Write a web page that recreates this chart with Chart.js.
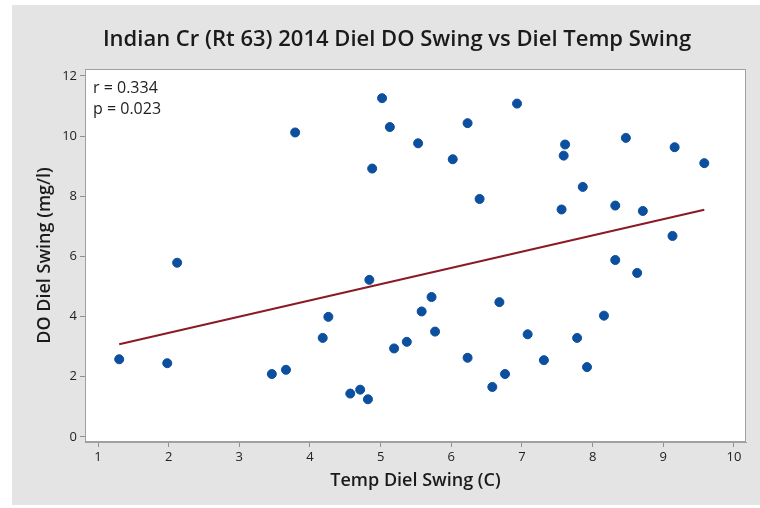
<!DOCTYPE html>
<html>
<head>
<meta charset="utf-8">
<script src="https://cdn.jsdelivr.net/npm/chart.js@4"></script>
<style>
  html, body { margin: 0; padding: 0; background: #fff; }
  #wrap { width: 760px; height: 508px; position: relative; }
</style>
</head>
<body>
<div id="wrap"><canvas id="chart"></canvas></div>
<script>
// temp swing (C) vs DO swing (mg/l)
const tempSwing = [1.30, 1.98, 2.12, 3.46, 3.66, 3.79, 4.18, 4.26, 4.57, 4.71,
                   4.82, 4.84, 4.88, 5.02, 5.13, 5.19, 5.37, 5.53, 5.58, 5.72,
                   5.77, 6.02, 6.23, 6.23, 6.40, 6.58, 6.68, 6.76, 6.93, 7.08,
                   7.31, 7.56, 7.59, 7.61, 7.78, 7.86, 7.92, 8.16, 8.32, 8.32,
                   8.47, 8.63, 8.71, 9.13, 9.16, 9.58];
const doSwing = [2.58, 2.45, 5.79, 2.09, 2.23, 10.12, 3.29, 3.99, 1.44, 1.57,
                 1.25, 5.22, 8.92, 11.26, 10.30, 2.94, 3.16, 9.76, 4.17, 4.65,
                 3.50, 9.23, 10.43, 2.63, 7.91, 1.66, 4.48, 2.09, 11.08, 3.41,
                 2.55, 7.56, 9.35, 9.72, 3.29, 8.31, 2.32, 4.03, 7.69, 5.88,
                 9.94, 5.45, 7.51, 6.68, 9.63, 9.10];

// fitted line ends
const fitX = [1.30, 9.58];
const fitY = [3.08, 7.55];

const xTicks = [1, 2, 3, 4, 5, 6, 7, 8, 9, 10];
const yTicks = [0, 2, 4, 6, 8, 10, 12];

const statsText = ['r = 0.334', 'p = 0.023'];

const points = tempSwing.map((x, i) => ({ x: x, y: doSwing[i] }));
const fitLine = fitX.map((x, i) => ({ x: x, y: fitY[i] }));

const fontName = '"Open Sans", "Noto Sans", sans-serif';

// gray backdrop, white plot area, title and r/p text
const decor = {
    id: 'decor',
    beforeDraw(chart) {
        const ctx = chart.ctx;
        const a = chart.chartArea;
        ctx.save();
        ctx.fillStyle = '#e4e4e4';
        ctx.fillRect(12, 5, 748, 500);
        ctx.fillStyle = '#ffffff';
        ctx.fillRect(a.left, a.top, a.right - a.left, a.bottom - a.top);
        ctx.fillStyle = '#1a1a1a';
        ctx.font = '600 22px ' + fontName;
        ctx.textAlign = 'center';
        ctx.textBaseline = 'middle';
        ctx.fillText('Indian Cr (Rt 63) 2014 Diel DO Swing vs Diel Temp Swing', 397, 40);
        ctx.restore();
    },
    afterDraw(chart) {
        const ctx = chart.ctx;
        const a = chart.chartArea;
        ctx.save();
        ctx.strokeStyle = '#a0a0a0';
        ctx.lineWidth = 1;
        ctx.strokeRect(a.left + 0.5, a.top + 0.5, a.right - a.left - 1, a.bottom - a.top - 1);
        ctx.fillStyle = '#222';
        ctx.font = '16px ' + fontName;
        ctx.textAlign = 'left';
        ctx.textBaseline = 'middle';
        statsText.forEach((t, i) => ctx.fillText(t, a.left + 8, a.top + 19 + i * 21));
        ctx.restore();
    }
};

new Chart(document.getElementById('chart'), {
    type: 'scatter',
    data: {
        datasets: [{
            label: 'DO swing',
            data: points,
            backgroundColor: '#0b4f9e',
            borderColor: '#0b4f9e',
            pointRadius: 4.5,
            pointHoverRadius: 4.5,
            order: 1
        }, {
            type: 'line',
            label: 'fit',
            data: fitLine,
            borderColor: '#8b1a24',
            borderWidth: 2,
            pointRadius: 0,
            fill: false,
            order: 2
        }]
    },
    options: {
        responsive: true,
        maintainAspectRatio: false,
        animation: false,
        layout: { padding: { left: 0, top: 69, right: 14, bottom: 0 } },
        plugins: {
            legend: { display: false },
            tooltip: { enabled: false },
            title: { display: false }
        },
        scales: {
            x: {
                type: 'linear',
                min: 0.816,
                max: 10.17,
                afterBuildTicks: s => { s.ticks = xTicks.map(v => ({ value: v })); },
                afterFit: s => { s.height = 66; },
                grid: { drawOnChartArea: false, color: '#909090', tickLength: 5 },
                border: { color: '#a0a0a0' },
                ticks: { color: '#222', font: { family: fontName, size: 13 }, padding: 2, maxRotation: 0 },
                title: {
                    display: true,
                    text: 'Temp Diel Swing (C)',
                    color: '#1a1a1a',
                    font: { family: fontName, size: 18, weight: '600' },
                    padding: { top: 0, bottom: 16 }
                }
            },
            y: {
                type: 'linear',
                min: -0.17,
                max: 12.23,
                afterBuildTicks: s => { s.ticks = yTicks.map(v => ({ value: v })); },
                afterFit: s => { s.width = 85; },
                grid: { drawOnChartArea: false, color: '#909090', tickLength: 5 },
                border: { color: '#a0a0a0' },
                ticks: { color: '#222', font: { family: fontName, size: 13 }, padding: 3 },
                title: {
                    display: true,
                    text: 'DO Diel Swing (mg/l)',
                    color: '#1a1a1a',
                    font: { family: fontName, size: 18, weight: '600' },
                    padding: { top: 34, bottom: 0 }
                }
            }
        }
    },
    plugins: [decor]
});
</script>
</body>
</html>
